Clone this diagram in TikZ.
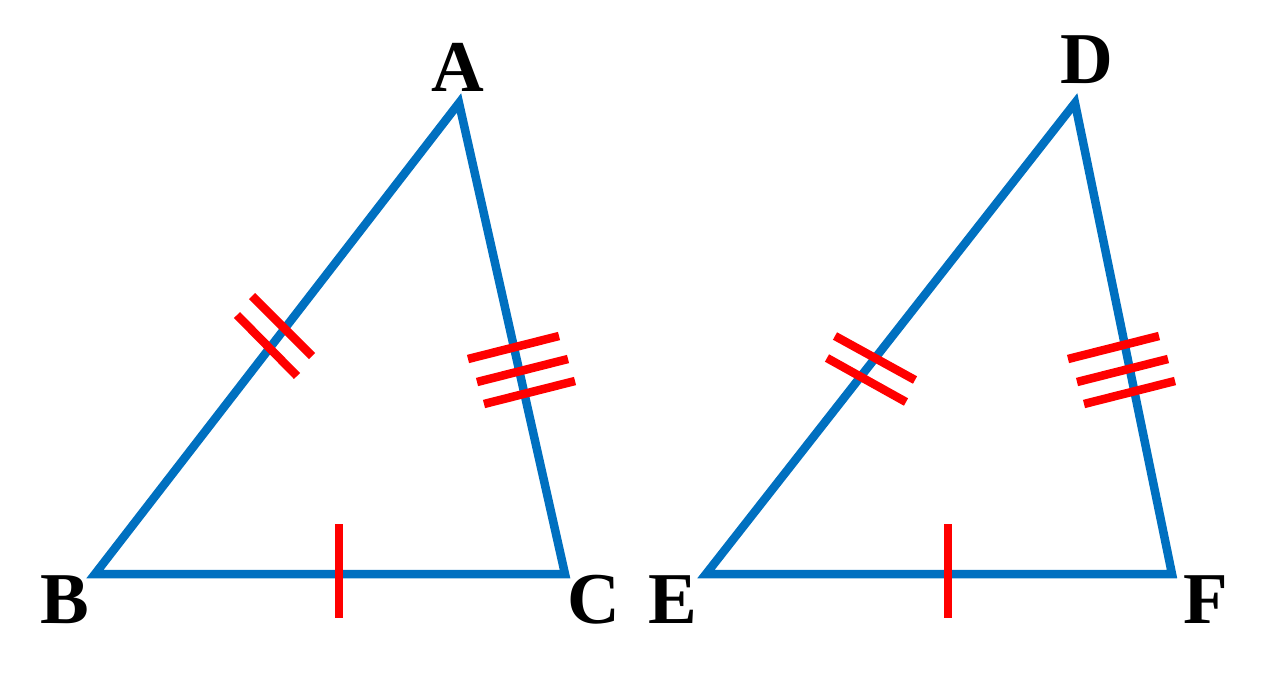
\documentclass[tikz,border=0pt]{standalone}
\usepackage{fontspec}
\setmainfont{Liberation Serif}
\usepackage{xcolor}
\definecolor{sideblue}{RGB}{0,112,192}
\definecolor{tickred}{RGB}{255,0,0}

\begin{document}
\begin{tikzpicture}[x=1pt, y=-1pt,
    side/.style={draw=sideblue, line width=8.5pt},
    tickmark/.style={draw=tickred, line width=8.5pt},
    vlabel/.style={inner sep=0pt, font=\fontsize{73}{73}\selectfont\bfseries}]
  \useasboundingbox (0,0) rectangle (1269,681);

  % first triangle
  \coordinate (A) at (459,103);
  \coordinate (B) at (95,574);
  \coordinate (C) at (565,574);
  \draw[side] (A) -- (C) -- (B) -- cycle;

  \node[vlabel] (labA) at (458,67) {A};
  \node[vlabel] (labB) at (65,600) {B};
  \node[vlabel] (labC) at (594,600) {C};

  % second triangle
  \coordinate (D) at (1075,103);
  \coordinate (E) at (706,574);
  \coordinate (F) at (1172,574);
  \draw[side] (D) -- (F) -- (E) -- cycle;

  \node[vlabel] (labD) at (1087,60) {D};
  \node[vlabel] (labE) at (673,600) {E};
  \node[vlabel] (labF) at (1206,600) {F};

  % equal sides
  \draw[tickmark] (339,524) -- (339,618);
  \draw[tickmark] (948,524) -- (948,618);

  \draw[tickmark] (237,315) -- (297,376);
  \draw[tickmark] (252,296) -- (312,356);
  \draw[tickmark] (835,336) -- (915,380);
  \draw[tickmark] (827,358) -- (906,402);

  \draw[tickmark] (468,359) -- (559,336);
  \draw[tickmark] (477,382) -- (568,359);
  \draw[tickmark] (484,404) -- (575,381);
  \draw[tickmark] (1068,359) -- (1159,336);
  \draw[tickmark] (1077,382) -- (1168,359);
  \draw[tickmark] (1084,404) -- (1175,381);
\end{tikzpicture}
\end{document}
